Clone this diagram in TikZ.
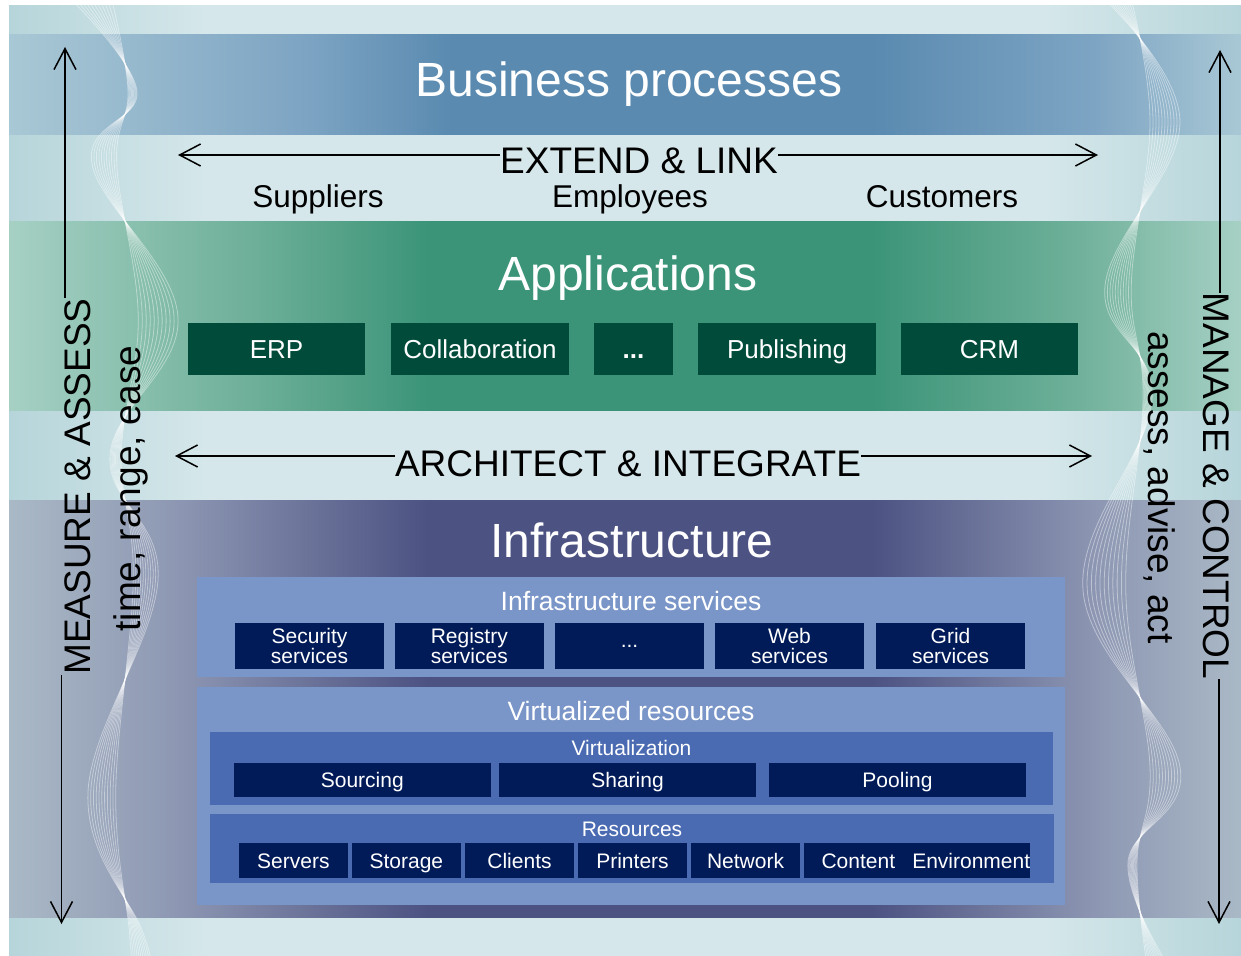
\documentclass[tikz,border=0pt]{standalone}
\usepackage{fontspec}
\setmainfont{Liberation Sans}
\usetikzlibrary{arrows.meta}
\definecolor{pgEdge}{HTML}{B6D5DA}
\definecolor{pgMid}{HTML}{D5E7EA}
\definecolor{bizA}{HTML}{A9C8D5}
\definecolor{bizB}{HTML}{7DA4C3}
\definecolor{bizC}{HTML}{5A8AB0}
\definecolor{appA}{HTML}{A6D0C4}
\definecolor{appB}{HTML}{6DAF98}
\definecolor{appC}{HTML}{3B9478}
\definecolor{infA}{HTML}{AAB9C6}
\definecolor{infB}{HTML}{8C96B2}
\definecolor{infC}{HTML}{4C5282}
\definecolor{panelc}{HTML}{7A95C7}
\definecolor{subpanelc}{HTML}{4A6BB2}
\definecolor{navyc}{HTML}{001B58}
\definecolor{appgreen}{HTML}{004B3A}
\pgfdeclarehorizontalshading{pageshade}{100bp}{color(0bp)=(pgEdge); color(25bp)=(pgEdge); color(33bp)=(pgMid); color(67bp)=(pgMid); color(75bp)=(pgEdge); color(100bp)=(pgEdge)}
\pgfdeclarehorizontalshading{bizshade}{100bp}{color(0bp)=(bizA); color(25bp)=(bizA); color(37bp)=(bizB); color(43bp)=(bizC); color(60bp)=(bizC); color(69bp)=(bizB); color(75bp)=(bizA); color(100bp)=(bizA)}
\pgfdeclarehorizontalshading{appshade}{100bp}{color(0bp)=(appA); color(25bp)=(appA); color(35bp)=(appB); color(42bp)=(appC); color(60bp)=(appC); color(68bp)=(appB); color(75bp)=(appA); color(100bp)=(appA)}
\pgfdeclarehorizontalshading{infshade}{100bp}{color(0bp)=(infA); color(25bp)=(infA); color(32bp)=(infB); color(42bp)=(infC); color(60bp)=(infC); color(69bp)=(infB); color(75bp)=(infA); color(100bp)=(infA)}
\tikzset{
  bigtitle/.style={text=white, font=\fontsize{48}{56}\selectfont, inner sep=0pt, anchor=base},
  dirtext/.style={text=black, font=\fontsize{37}{42}\selectfont, inner sep=0pt, anchor=base},
  grouptext/.style={text=black, font=\fontsize{31.5}{36}\selectfont, inner sep=0pt, anchor=base},
  paneltitle/.style={text=white, font=\fontsize{26.5}{30}\selectfont, inner sep=0pt, anchor=base},
  subtitle/.style={text=white, font=\fontsize{21}{24}\selectfont, inner sep=0pt, anchor=base},
  appbox/.style={fill=appgreen, text=white, font=\fontsize{26}{30}\selectfont, inner sep=0pt,
     minimum height=52pt, text height=18.6pt, text depth=0pt},
  navybox/.style={fill=navyc, text=white, font=\fontsize{21}{20}\selectfont, inner sep=0pt, align=center},
  arr/.style={line width=1.5pt, -{Straight Barb[length=21pt,width=22pt,line width=1.5pt]}},
  wave/.style={white, opacity=0.42, line width=0.8pt},
}
\begin{document}
\begin{tikzpicture}[x=1pt,y=-1pt]
\useasboundingbox (0,0) rectangle (1241,955);
\fill[white] (0,0) rectangle (1241,955);
% page and bands
\fill[shading=pageshade] (9,6) rectangle (1241,955);
\fill[shading=bizshade] (9,34.3) rectangle (1241,134.3);
\fill[shading=appshade] (9,221.7) rectangle (1241,410);
\fill[shading=infshade] (9,500.7) rectangle (1241,917.7);
% decorative waves
\begin{scope}
\clip (9,6) rectangle (1241,955);
\foreach \s in {0.25,0.325,...,1.01} {
  \draw[wave] plot[smooth,tension=0.65] coordinates {
    ({125+\s*(72-125)},0) ({125+\s*(137-125)},91) ({125+\s*(92-125)},164)
    ({125+\s*(178-125)},317) ({125+\s*(110-125)},455) ({125+\s*(158-125)},580)
    ({125+\s*(88-125)},792) ({125+\s*(142-125)},930) ({125+\s*(150-125)},960)};
  \draw[wave] plot[smooth,tension=0.65] coordinates {
    ({1140+\s*(1105-1140)},0) ({1140+\s*(1180-1140)},122) ({1140+\s*(1105-1140)},286)
    ({1140+\s*(1152-1140)},400) ({1140+\s*(1083-1140)},590) ({1140+\s*(1180-1140)},767)
    ({1140+\s*(1128-1140)},862) ({1140+\s*(1165-1140)},960)};
}
\end{scope}
% band titles
\node[bigtitle] (biz) at (629,96.7) {Business processes};
\node[bigtitle] (apps) at (628,290) {Applications};
\node[bigtitle] (infra) at (632,557) {Infrastructure};
% extend & link
\node[dirtext] (extend) at (639,173) {EXTEND \& LINK};
\coordinate (eL) at (178,155);
\coordinate (eR) at (1098,155);
\draw[arr] (extend.west |- eL) -- (eL);
\draw[arr] (extend.east |- eR) -- (eR);
\node[grouptext] (sup) at (318,207) {Suppliers};
\node[grouptext] (emp) at (630,207) {Employees};
\node[grouptext] (cus) at (942,207) {Customers};
% application boxes
\node[appbox, minimum width=177pt] (erp) at (276.5,349) {ERP};
\node[appbox, minimum width=178pt] (collab) at (480,349) {Collaboration};
\node[appbox, minimum width=79pt] (appdots) at (633.5,349) {\textbf{...}};
\node[appbox, minimum width=178pt] (pub) at (787,349) {Publishing};
\node[appbox, minimum width=177pt] (crm) at (989.5,349) {CRM};
% architect & integrate
\node[dirtext] (arch) at (628,476.7) {ARCHITECT \& INTEGRATE};
\coordinate (aL) at (175,456);
\coordinate (aR) at (1092,456);
\draw[arr] (arch.west |- aL) -- (aL);
\draw[arr] (arch.east |- aR) -- (aR);
% infrastructure services panel
\node[fill=panelc, inner sep=0pt, minimum width=868pt, minimum height=99.4pt] (isvc) at (631,627) {};
\node[paneltitle] (isvct) at (631,610.7) {Infrastructure services};
\node[navybox, minimum width=149pt, minimum height=45.7pt] (sec) at (309.5,646.2) {Security\\services};
\node[navybox, minimum width=148.7pt, minimum height=45.7pt] (reg) at (469.3,646.2) {Registry\\services};
\node[navybox, minimum width=149pt, minimum height=45.7pt] (svcdots) at (629.5,646.2) {...};
\node[navybox, minimum width=149pt, minimum height=45.7pt] (web) at (789.5,646.2) {Web\\services};
\node[navybox, minimum width=149pt, minimum height=45.7pt] (grid) at (950.5,646.2) {Grid\\services};
% virtualized resources panel
\node[fill=panelc, inner sep=0pt, minimum width=868pt, minimum height=217.4pt] (vres) at (631,796) {};
\node[paneltitle] (vrest) at (631,720.7) {Virtualized resources};
\node[fill=subpanelc, inner sep=0pt, minimum width=843pt, minimum height=72.4pt] (virt) at (631.5,768.5) {};
\node[subtitle] (virtt) at (631.5,755) {Virtualization};
\node[navybox, minimum width=256.7pt, minimum height=33.7pt, text height=15pt, text depth=0pt] (src) at (362.3,780.2) {Sourcing};
\node[navybox, minimum width=257pt, minimum height=33.7pt, text height=15pt, text depth=0pt] (shr) at (627.5,780.2) {Sharing};
\node[navybox, minimum width=257pt, minimum height=33.7pt, text height=15pt, text depth=0pt] (pool) at (897.5,780.2) {Pooling};
\node[fill=subpanelc, inner sep=0pt, minimum width=844pt, minimum height=68.4pt] (res) at (632,848.5) {};
\node[subtitle] (rest) at (632,836) {Resources};
\foreach \nm/\lab/\xa/\xb in {srv/Servers/239/347.7, sto/Storage/352/460.7, cli/Clients/465.3/573.7,
   prn/Printers/578.3/686.7, net/Network/691/800, con/Content/804/912.7, env/Environment/916.7/1025.7} {
  \pgfmathsetmacro{\cx}{(\xa+\xb)/2}
  \pgfmathsetmacro{\bw}{\xb-\xa}
  \node[navybox, minimum width=\bw pt, minimum height=34.4pt, text height=15pt, text depth=0pt] (\nm) at (\cx,860.5) {\lab};
}
% left side
\node[dirtext, rotate=90] (measure) at (90,486.5) {MEASURE \& ASSESS};
\node[dirtext, rotate=90] (tre) at (140,488.5) {time, range, ease};
\coordinate (mtop) at (65,47);
\coordinate (mbot) at (61.5,924);
\draw[arr] (measure.east -| mtop) -- (mtop);
\draw[arr] (measure.west -| mbot) -- (mbot);
% right side
\node[dirtext, rotate=-90] (manage) at (1203,486) {MANAGE \& CONTROL};
\node[dirtext, rotate=-90] (aaa) at (1148,487.5) {assess, advise, act};
\coordinate (ctop) at (1220,50);
\coordinate (cbot) at (1219,924);
\draw[arr] (manage.west -| ctop) -- (ctop);
\draw[arr] (manage.east -| cbot) -- (cbot);
\end{tikzpicture}
\end{document}
